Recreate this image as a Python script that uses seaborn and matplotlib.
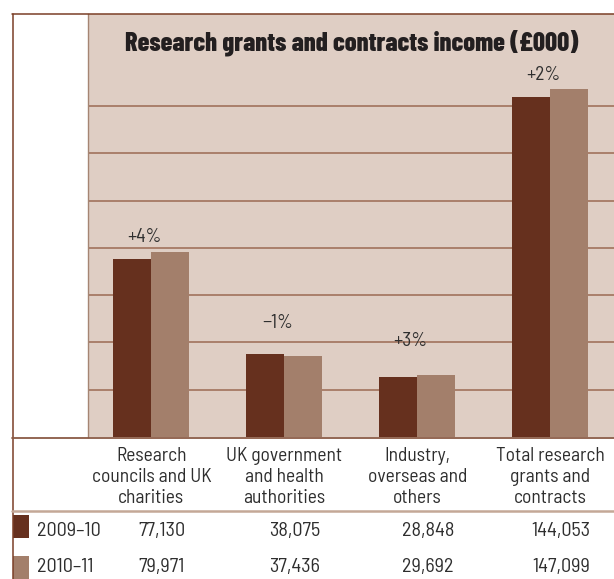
import matplotlib
matplotlib.use("Agg")
import matplotlib.pyplot as plt
import matplotlib.transforms as mtransforms
from matplotlib.lines import Line2D
from matplotlib.patches import Rectangle
import pandas as pd
import seaborn as sns

# ---------------- data ----------------
categories = ["Research\ncouncils and UK\ncharities",
              "UK government\nand health\nauthorities",
              "Industry,\noverseas and\nothers",
              "Total research\ngrants and\ncontracts"]
periods = ["2009\u201310", "2010\u201311"]
values_2009_10 = [77130, 38075, 28848, 144053]
values_2010_11 = [79971, 37436, 29692, 147099]
change_labels = ["+4%", "\u22121%", "+3%", "+2%"]
title = "Research grants and contracts income (\u00a3000)"

# ---------------- style ----------------
DARK = "#66301e"
LIGHT = "#a37f6b"
BG = "#dfcec4"
GRID = "#9c6a53"
BORDER = "#7b3f27"
TEXT = "#2e2e2e"
BODY_FONT = ["Barlow Semi Condensed", "DejaVu Sans"]
TITLE_FONT = ["Barlow Condensed", "DejaVu Sans"]

W, H = 614, 579
sns.set_theme(style="white")
plt.rcParams["font.family"] = BODY_FONT

fig = plt.figure(figsize=(W / 100, H / 100), dpi=100)

def fx(px):
    return px / W

def fy(py):
    return 1 - py / H

ax = fig.add_axes([fx(87.5), fy(437), fx(614) - fx(87.5), fy(14) - fy(437)])
ax.set_facecolor(BG)

df = pd.DataFrame({
    "category": categories * 2,
    "period": [periods[0]] * 4 + [periods[1]] * 4,
    "value": values_2009_10 + values_2010_11,
})
sns.barplot(data=df, x="category", y="value", hue="period", order=categories,
            hue_order=periods, palette=[DARK, LIGHT], saturation=1,
            width=0.573, linewidth=0, edgecolor="none", legend=False, ax=ax)

ax.set_xlim(-0.48, 3.48)
ylo, step = 4000, 19450
ax.set_ylim(ylo, 178000)
ax.set_yticks([ylo + step * k for k in range(1, 8)])
ax.yaxis.grid(True, color=GRID, linewidth=1.1)
ax.xaxis.grid(False)
ax.set_axisbelow(True)
ax.tick_params(length=0, labelbottom=False, labelleft=False)
ax.set_xlabel("")
ax.set_ylabel("")
for s in ["top", "right", "bottom"]:
    ax.spines[s].set_visible(False)
ax.spines["left"].set_color("#a58573")
ax.spines["left"].set_linewidth(1.0)

# percentage change labels
offsets_px = [15, 31, 34, 14]
for i, (lab, off) in enumerate(zip(change_labels, offsets_px)):
    top = max(values_2009_10[i], values_2010_11[i])
    ax.annotate(lab, xy=(i - 0.05, top), xytext=(0, off * 0.72),
                textcoords="offset points", ha="center", va="center",
                fontsize=14, color=TEXT, family=BODY_FONT)

# title
fig.text(fx(352), fy(50), title, ha="center", va="baseline",
         fontsize=19.0, fontweight=800, color="#231f20", family=TITLE_FONT)

# frame lines
fig.add_artist(Line2D([fx(12), fx(614)], [fy(14), fy(14)], color=BORDER, lw=1.1))
fig.add_artist(Line2D([fx(12.5), fx(12.5)], [fy(14), fy(579)], color=BORDER, lw=1.1))
fig.add_artist(Line2D([fx(12), fx(614)], [fy(437.8), fy(437.8)], color="#8a5a45", lw=1.3))
fig.add_artist(Line2D([fx(12), fx(614)], [fy(510.8), fy(510.8)], color="#c4a897", lw=1.8))

# table: headers and values
blend = mtransforms.blended_transform_factory(ax.transData, fig.transFigure)
header_baselines = [461, 482, 503]
for i, cat in enumerate(categories):
    for line, yb in zip(cat.split("\n"), header_baselines):
        fig.text(i, fy(yb), line, transform=blend, ha="center", va="baseline",
                 fontsize=14, color=TEXT)

row_baselines = [536, 571.5]
swatch_tops = [515, 556]
for r, (period, vals, col) in enumerate(zip(periods, [values_2009_10, values_2010_11], [DARK, LIGHT])):
    fig.add_artist(Rectangle((fx(12.5), fy(swatch_tops[r] + 23)), fx(16), fy(0) - fy(23),
                             transform=fig.transFigure, facecolor=col, edgecolor="none"))
    fig.text(fx(37), fy(row_baselines[r]), period, ha="left", va="baseline",
             fontsize=14.5, color=TEXT)
    for i, v in enumerate(vals):
        fig.text(i + 0.08, fy(row_baselines[r]), f"{v:,}", transform=blend,
                 ha="center", va="baseline", fontsize=14.5, color=TEXT)

fig.savefig("out.png", dpi=100, facecolor="white")
